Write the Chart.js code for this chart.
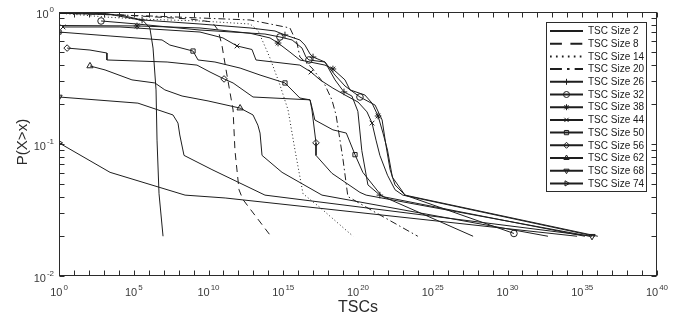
<!DOCTYPE html>
<html>
<head>
<meta charset="utf-8">
<script src="https://cdn.jsdelivr.net/npm/chart.js@4.4.1/dist/chart.umd.min.js"></script>
<style>
  body { margin: 0; background: #fff; }
  canvas { display: block; }
</style>
</head>
<body>
<canvas id="c" width="687" height="322"></canvas>
<script>
// CCDF of TSCs per TSC size
// x = TSCs, p = P(X>x)
var sizes = ["TSC Size 2", "TSC Size 8", "TSC Size 14", "TSC Size 20", "TSC Size 26",
  "TSC Size 32", "TSC Size 38", "TSC Size 44", "TSC Size 50", "TSC Size 56",
  "TSC Size 62", "TSC Size 68", "TSC Size 74"];

var x2 = [1, 1.2e3, 1.2e5, 4.2e5, 1.2e6, 1.95e6, 3.1e6, 3.6e6, 4.9e6, 9.1e6];
var p2 = [0.98, 0.975, 0.885, 0.86, 0.757, 0.533, 0.257, 0.107, 0.042, 0.02];

var x8 = [1, 1.2e3, 5.8e8, 1.7e10, 4.4e10, 7.9e10, 1.5e11, 4.4e11, 5.9e11, 1.1e12, 2e12, 2e13, 1.5e14];
var p8 = [0.98, 0.966, 0.885, 0.84, 0.73, 0.56, 0.364, 0.181, 0.089, 0.045, 0.038, 0.027, 0.02];

var x14 = [1, 1.2e3, 1.7e5, 2.7e9, 6e12, 2e13, 1.3e14, 6e14, 2.1e15, 6.2e15, 2.1e16, 2.9e17, 4.7e19];
var p14 = [0.98, 0.917, 0.885, 0.855, 0.811, 0.73, 0.448, 0.28, 0.181, 0.089, 0.042, 0.033, 0.02];

var x20 = [1, 1.2e6, 6e12, 2.8e15, 8.3e15, 1.3e16, 8.3e16, 6.2e17, 1.8e18, 3.4e18, 1e19, 2.1e19, 6.3e20, 1e24];
var p20 = [0.98, 0.933, 0.87, 0.757, 0.582, 0.456, 0.377, 0.28, 0.216, 0.166, 0.076, 0.04, 0.032, 0.02];

var x26 = [1, 1.2e4, 3.6e5, 2.7e9, 6e12, 2.8e14, 1.3e15, 1.3e16, 2.8e16, 6.2e16, 9.8e16, 6.2e17, 2.9e18,
  1.15e19, 3.9e19, 9.8e19, 1.8e20, 4.6e20, 2.9e21, 5e27];
var p26 = [0.98, 0.95, 0.87, 0.811, 0.757, 0.718, 0.67, 0.614, 0.562, 0.481, 0.456, 0.418, 0.306,
  0.248, 0.231, 0.177, 0.089, 0.049, 0.041, 0.02];
var m26 = [2, 6, 10, 13, 18];

var x32 = [650, 1.65e5, 2.7e9, 6e13, 6e14, 3.9e15, 1.8e16, 3.3e16, 5.2e16, 6.2e17, 2.9e18, 1.35e19,
  1.35e20, 1.4e21, 4.1e21, 7.4e21, 1.4e22, 3e22, 1.4e23, 2.7e30];
var p32 = [0.855, 0.811, 0.73, 0.681, 0.647, 0.614, 0.533, 0.456, 0.433, 0.418, 0.333, 0.275,
  0.227, 0.197, 0.152, 0.098, 0.064, 0.049, 0.041, 0.021];
var m32 = [0, 4, 8, 12, 19];

var x38 = [1, 1.65e5, 2.7e9, 6e12, 1.3e14, 4.5e14, 2.8e15, 1.3e16, 6.2e16, 6.2e17, 2.1e18, 1.35e19,
  2.9e19, 2.9e20, 8.7e20, 2.2e21, 4.7e21, 9.4e21, 2e22, 1.4e23, 1.1e36];
var p38 = [0.79, 0.784, 0.757, 0.69, 0.636, 0.582, 0.497, 0.433, 0.418, 0.396, 0.37, 0.306,
  0.257, 0.235, 0.204, 0.163, 0.121, 0.09, 0.056, 0.041, 0.02];
var m38 = [1, 5, 10, 15];

var x44 = [1.86, 1.2e4, 2.7e9, 9.3e10, 8.1e11, 8.1e12, 1.5e13, 1.3e16, 7.2e16, 2.9e17, 2.1e18, 1.35e19,
  1e20, 4e20, 8.7e20, 1.6e21, 2.9e21, 9.4e21, 3e22, 1e23, 7.1e35];
var p44 = [0.77, 0.77, 0.705, 0.636, 0.553, 0.52, 0.433, 0.396, 0.351, 0.306, 0.265, 0.235,
  0.208, 0.175, 0.144, 0.107, 0.082, 0.058, 0.045, 0.041, 0.02];
var m44 = [0, 4, 8, 14];

var x50 = [1, 2.6e3, 7.8e6, 2.6e7, 9.2e8, 2e9, 2.7e10, 1.3e12, 2.8e13, 1.3e15, 1.3e16, 6.2e16, 8.3e16,
  1.3e17, 2.1e18, 1.65e19, 6.3e19, 2.1e20, 4.1e21, 1.5e35];
var p50 = [0.705, 0.658, 0.614, 0.562, 0.506, 0.433, 0.418, 0.376, 0.333, 0.29, 0.223, 0.216, 0.19,
  0.152, 0.128, 0.121, 0.083, 0.061, 0.04, 0.02];
var m50 = [0, 4, 9, 16];

var x56 = [3.5, 118, 1.6e3, 1.6e3, 1.7e7, 1.7e9, 1.26e10, 1.1e11, 4.4e11, 9.5e12, 6.2e16, 8.3e16,
  1.55e17, 1.55e17, 1.8e18, 1.35e20, 3.5e20, 3.3e35];
var p56 = [0.533, 0.515, 0.489, 0.433, 0.418, 0.396, 0.351, 0.311, 0.29, 0.227, 0.216, 0.181,
  0.102, 0.082, 0.06, 0.043, 0.041, 0.02];
var m56 = [0, 7, 12];

var x62 = [118, 1.2e3, 7.6e4, 2.6e6, 1.2e7, 1.7e8, 9.3e9, 1.3e12, 9.5e12, 2e13, 2.8e13, 3.8e13,
  8.3e14, 3.9e17, 5.1e32];
var p62 = [0.39, 0.364, 0.306, 0.29, 0.257, 0.231, 0.212, 0.187, 0.166, 0.139, 0.121, 0.082,
  0.061, 0.041, 0.02];
var m62 = [0, 7];

var x68 = [1, 1.9e5, 4.2e7, 9.1e7, 1.2e8, 2.3e8, 1.7e10, 6e13, 4.5e35];
var p68 = [0.227, 0.204, 0.166, 0.144, 0.117, 0.082, 0.064, 0.041, 0.02];
var m68 = [0, 8];

var x74 = [1, 2.6e3, 2.7e8, 1.3e11, 4.5e34];
var p74 = [0.102, 0.061, 0.041, 0.039, 0.02];
var m74 = [0];

var xLabelExp = [0, 5, 10, 15, 20, 25, 30, 35, 40];
var yLabelExp = [0, -1, -2];

var ink = "#1e1e1e";
var font = '"Liberation Sans", Arial, sans-serif';

// line style and marker of each curve, same order as sizes
var series = [
  { x: x2, p: p2, dash: [], style: false, rot: 0, marks: [] },
  { x: x8, p: p8, dash: [7, 5], style: false, rot: 0, marks: [] },
  { x: x14, p: p14, dash: [1, 2.5], style: false, rot: 0, marks: [] },
  { x: x20, p: p20, dash: [7, 3, 1.5, 3], style: false, rot: 0, marks: [] },
  { x: x26, p: p26, dash: [], style: "cross", rot: 0, marks: m26 },
  { x: x32, p: p32, dash: [], style: "circle", rot: 0, marks: m32 },
  { x: x38, p: p38, dash: [], style: "star", rot: 0, marks: m38 },
  { x: x44, p: p44, dash: [], style: "crossRot", rot: 0, marks: m44 },
  { x: x50, p: p50, dash: [], style: "rect", rot: 0, marks: m50 },
  { x: x56, p: p56, dash: [], style: "rectRot", rot: 0, marks: m56 },
  { x: x62, p: p62, dash: [], style: "triangle", rot: 0, marks: m62 },
  { x: x68, p: p68, dash: [], style: "triangle", rot: 180, marks: m68 },
  { x: x74, p: p74, dash: [], style: "triangle", rot: 90, marks: m74 }
];

function markerRadius(style) {
  if (style === "rect") return 3;
  if (style === "triangle") return 3.6;
  return 3.3;
}

var datasets = series.map(function (s, k) {
  return {
    label: sizes[k],
    data: s.x.map(function (v, i) { return { x: v, y: s.p[i] }; }),
    showLine: true,
    borderColor: ink,
    borderWidth: 1,
    borderDash: s.dash,
    tension: 0,
    pointStyle: s.style || "circle",
    pointRotation: s.rot,
    pointRadius: function (c) { return s.marks.indexOf(c.dataIndex) >= 0 ? markerRadius(s.style) : 0; },
    pointHoverRadius: 0,
    pointBorderColor: ink,
    pointBackgroundColor: "rgba(0,0,0,0)",
    pointBorderWidth: 1
  };
});

function supLabel(ctx, base, exp, x, y, align) {
  ctx.font = "11px " + font;
  var w1 = ctx.measureText(base).width;
  ctx.font = "8px " + font;
  var w2 = ctx.measureText(exp).width;
  var total = w1 + 1 + w2;
  var left = align === "right" ? x - total : x - total / 2;
  ctx.textAlign = "left";
  ctx.textBaseline = "alphabetic";
  ctx.font = "11px " + font;
  ctx.fillText(base, left, y);
  ctx.font = "8px " + font;
  ctx.fillText(exp, left + w1 + 1, y - 6);
}

var frame = {
  id: "frame",
  afterDraw: function (chart) {
    var ctx = chart.ctx, a = chart.chartArea;
    var xs = chart.scales.x, ys = chart.scales.y;
    ctx.save();
    ctx.strokeStyle = "#2b2b2b";
    ctx.lineWidth = 1;
    var L = Math.round(a.left) + 0.5, R = Math.round(a.right) - 0.5;
    var T = Math.round(a.top) + 0.5, B = Math.round(a.bottom) - 0.5;
    ctx.strokeRect(L, T, R - L, B - T);

    // inward ticks
    ctx.beginPath();
    for (var e = 0; e <= 40; e++) {
      var px = Math.round(xs.getPixelForValue(Math.pow(10, e))) + 0.5;
      ctx.moveTo(px, B); ctx.lineTo(px, B - 5);
      ctx.moveTo(px, T); ctx.lineTo(px, T + 5);
    }
    [0.01, 0.1].forEach(function (d) {
      for (var m = 1; m <= 9; m++) {
        var py = Math.round(ys.getPixelForValue(m * d)) + 0.5;
        ctx.moveTo(L, py); ctx.lineTo(L + 5, py);
        ctx.moveTo(R, py); ctx.lineTo(R - 5, py);
      }
    });
    ctx.stroke();

    // tick labels
    ctx.fillStyle = "#3a3a3a";
    xLabelExp.forEach(function (e) {
      var px = xs.getPixelForValue(Math.pow(10, e));
      supLabel(ctx, "10", String(e), px, 296, "center");
    });
    yLabelExp.forEach(function (e) {
      var py = ys.getPixelForValue(Math.pow(10, e));
      supLabel(ctx, "10", String(e), 54, py + 6, "right");
    });

    // axis titles
    ctx.fillStyle = "#2b2b2b";
    ctx.font = "16px " + font;
    ctx.textAlign = "center";
    ctx.textBaseline = "alphabetic";
    ctx.fillText("TSCs", (a.left + a.right) / 2, 312);
    ctx.save();
    ctx.translate(27, (a.top + a.bottom) / 2 - 2);
    ctx.rotate(-Math.PI / 2);
    ctx.font = "15px " + font;
    ctx.fillText("P(X>x)", 0, 0);
    ctx.restore();

    // legend
    var lx = 546.5, ly = 22.5, lw = 100, lh = 169;
    ctx.fillStyle = "#fff";
    ctx.fillRect(lx, ly, lw, lh);
    ctx.strokeStyle = "#2b2b2b";
    ctx.strokeRect(lx, ly, lw, lh);
    series.forEach(function (s, k) {
      var y = 31 + k * 12.7;
      ctx.strokeStyle = ink;
      ctx.lineWidth = 2;
      ctx.setLineDash(s.dash.map(function (d) { return d * 1.7; }));
      ctx.beginPath();
      ctx.moveTo(550, y); ctx.lineTo(583, y);
      ctx.stroke();
      ctx.setLineDash([]);
      if (s.style) {
        ctx.lineWidth = 1;
        ctx.fillStyle = "rgba(0,0,0,0)";
        Chart.helpers.drawPoint(ctx, { pointStyle: s.style, radius: 3, rotation: s.rot, borderWidth: 1 }, 566.5, y);
      }
      ctx.fillStyle = "#1a1a1a";
      ctx.font = "10px " + font;
      ctx.textAlign = "left";
      ctx.textBaseline = "middle";
      ctx.fillText(sizes[k], 588, y + 0.5);
    });
    ctx.restore();
  }
};

new Chart(document.getElementById("c"), {
  type: "scatter",
  data: { datasets: datasets },
  options: {
    responsive: false,
    devicePixelRatio: 1,
    animation: false,
    events: [],
    layout: { padding: { left: 59, right: 30, top: 12, bottom: 46 } },
    plugins: { legend: { display: false }, tooltip: { enabled: false } },
    scales: {
      x: { type: "logarithmic", min: 1, max: 1e40, display: false },
      y: { type: "logarithmic", min: 0.01, max: 1, display: false }
    }
  },
  plugins: [frame]
});
</script>
</body>
</html>
